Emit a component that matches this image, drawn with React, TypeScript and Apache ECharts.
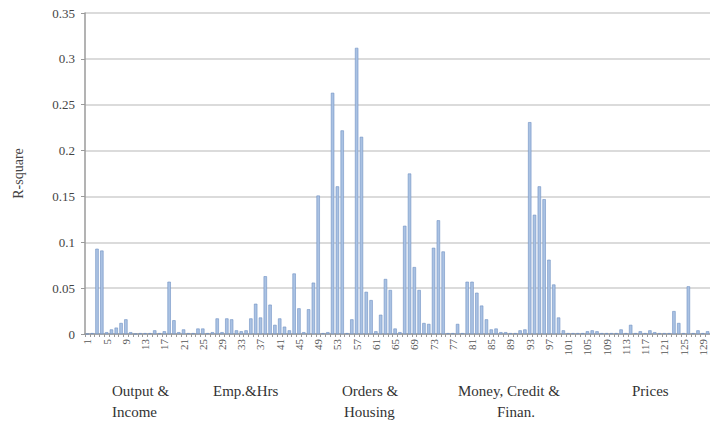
import React, { useEffect, useRef } from "react";
import * as echarts from "echarts";

const categories: string[] = Array.from({ length: 130 }, (_, i) => String(i + 1));

const rSquare: number[] = [
  0, 0.001, 0.093, 0.091, 0.002, 0.005, 0.007, 0.012, 0.016, 0.002,
  0, 0.001, 0.001, 0.001, 0.004, 0.001, 0.003, 0.057, 0.015, 0.002,
  0.005, 0.001, 0.001, 0.006, 0.006, 0.001, 0.002, 0.017, 0.002, 0.017,
  0.016, 0.004, 0.003, 0.004, 0.017, 0.033, 0.018, 0.063, 0.032, 0.010,
  0.017, 0.008, 0.004, 0.066, 0.028, 0.002, 0.027, 0.056, 0.151, 0.001,
  0.002, 0.263, 0.161, 0.222, 0.001, 0.016, 0.312, 0.215, 0.046, 0.037,
  0.003, 0.021, 0.060, 0.048, 0.006, 0.002, 0.118, 0.175, 0.073, 0.048,
  0.012, 0.011, 0.094, 0.124, 0.090, 0.001, 0.001, 0.011, 0.001, 0.057,
  0.057, 0.045, 0.031, 0.016, 0.005, 0.006, 0.002, 0.002, 0.001, 0.001,
  0.004, 0.005, 0.231, 0.130, 0.161, 0.147, 0.081, 0.054, 0.018, 0.004,
  0.001, 0.001, 0.001, 0.001, 0.003, 0.004, 0.003, 0.001, 0.001, 0.001,
  0.001, 0.005, 0.001, 0.010, 0.001, 0.003, 0.001, 0.004, 0.002, 0.001,
  0.001, 0.001, 0.025, 0.012, 0.001, 0.052, 0.001, 0.004, 0.001, 0.003,
];

const groupLines: { text: string; x: number; y: number }[] = [
  { text: "Output &", x: 112, y: 383 },
  { text: "Income", x: 112, y: 404 },
  { text: "Emp.&Hrs", x: 213, y: 383 },
  { text: "Orders &", x: 342, y: 383 },
  { text: "Housing", x: 344, y: 404 },
  { text: "Money, Credit &", x: 458, y: 383 },
  { text: "Finan.", x: 497, y: 404 },
  { text: "Prices", x: 632, y: 383 },
];

const SERIF = "Liberation Serif";

export default function App() {
  const ref = useRef<HTMLDivElement>(null);
  useEffect(() => {
    if (!ref.current) return;
    const chart = echarts.init(ref.current, undefined, { renderer: "svg" });
    chart.setOption({
      animation: false,
      backgroundColor: "#ffffff",
      textStyle: { fontFamily: SERIF },
      grid: { left: 85, right: 0, top: 13, bottom: 94, containLabel: false },
      xAxis: {
        type: "category",
        data: categories,
        axisLine: { lineStyle: { color: "#9a9a9a", width: 1.5 } },
        axisTick: { show: true, interval: 0, length: 3, lineStyle: { color: "#9a9a9a" } },
        axisLabel: {
          interval: 3,
          rotate: 90,
          margin: 5,
          fontSize: 11,
          fontFamily: SERIF,
          color: "#555555",
        },
      },
      yAxis: {
        type: "value",
        min: 0,
        max: 0.35,
        interval: 0.05,
        name: "R-square",
        nameLocation: "middle",
        nameGap: 60,
        nameTextStyle: { fontSize: 14, fontFamily: SERIF, color: "#444444" },
        axisLine: { show: true, lineStyle: { color: "#9a9a9a", width: 1.5 } },
        axisTick: { show: true, length: 4, lineStyle: { color: "#9a9a9a" } },
        axisLabel: { fontSize: 13, fontFamily: SERIF, color: "#444444", margin: 10 },
        splitLine: { lineStyle: { color: "#cfcfcf", width: 1.5 } },
      },
      series: [
        {
          type: "bar",
          data: rSquare,
          barCategoryGap: "30%",
          itemStyle: { color: "#aac2e3", borderColor: "#6f90c2", borderWidth: 0.6 },
        },
      ],
      graphic: groupLines.map((g) => ({
        type: "text",
        left: g.x,
        top: g.y,
        style: { text: g.text, fontSize: 15, fontFamily: SERIF, fill: "#333333" },
      })),
    });
    return () => chart.dispose();
  }, []);
  return (
    <div
      ref={ref}
      style={{ position: "fixed", left: 0, top: 0, width: 710, height: 428 }}
    />
  );
}
